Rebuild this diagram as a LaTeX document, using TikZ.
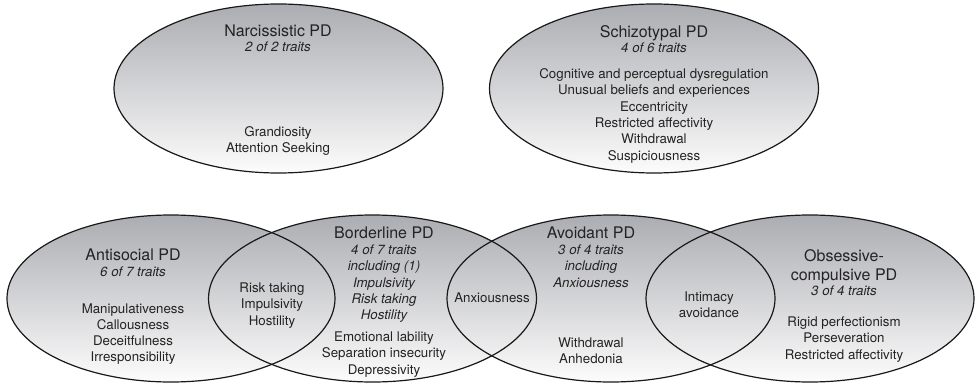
\documentclass[tikz,border=0pt]{standalone}
\usepackage{fontspec}
\setmainfont{TeX Gyre Heros}
\definecolor{ellTop}{RGB}{172,173,178}
\definecolor{ellBot}{RGB}{252,252,252}
\definecolor{txtc}{RGB}{35,35,35}
\begin{document}
\begin{tikzpicture}[x=1pt,y=-1pt,
  ellfill/.style={top color=ellTop,bottom color=ellBot},
  elldraw/.style={draw=black!90,line width=1.2pt},
  ttl/.style={font=\fontsize{16}{19}\selectfont,anchor=base,inner sep=0pt,text=txtc},
  sub/.style={font=\fontsize{13.3}{16}\selectfont\itshape,anchor=base,inner sep=0pt,text=txtc},
  itm/.style={font=\fontsize{13.3}{16}\selectfont,anchor=base,inner sep=0pt,text=txtc}]
\useasboundingbox (0,0) rectangle (976,385);
% centres
\coordinate (cN) at (278.5,88.5);
\coordinate (cS) at (654,88.5);
\coordinate (cA) at (171,298.5);
\coordinate (cB) at (372.5,298.5);
\coordinate (cV) at (611,298.5);
\coordinate (cO) at (810,298.5);
% fills
\foreach \c in {cN,cS}{\path[ellfill] (\c) ellipse [x radius=164.5,y radius=84.5];}
\foreach \c in {cA,cB,cV,cO}{\path[ellfill] (\c) ellipse [x radius=164,y radius=83.5];}
% outlines
\foreach \c in {cN,cS}{\path[elldraw] (\c) ellipse [x radius=164.5,y radius=84.5];}
\foreach \c in {cA,cB,cV,cO}{\path[elldraw] (\c) ellipse [x radius=164,y radius=83.5];}
% Narcissistic
\node[ttl] (n-t) at (278,36.5) {Narcissistic PD};
\node[sub] (n-s) at (278,52) {2 of 2 traits};
\node[itm] (n-1) at (278,136.5) {Grandiosity};
\node[itm] (n-2) at (278,152.8) {Attention Seeking};
% Schizotypal
\node[ttl] (s-t) at (654,37.5) {Schizotypal PD};
\node[sub] (s-s) at (654,53) {4 of 6 traits};
\node[itm] (s-1) at (654,78.5) {Cognitive and perceptual dysregulation};
\node[itm] (s-2) at (654,94.8) {Unusual beliefs and experiences};
\node[itm] (s-3) at (654,111.1) {Eccentricity};
\node[itm] (s-4) at (654,127.4) {Restricted affectivity};
\node[itm] (s-5) at (654,143.7) {Withdrawal};
\node[itm] (s-6) at (654,160) {Suspiciousness};
% Antisocial
\node[ttl] (a-t) at (133,260.5) {Antisocial PD};
\node[sub] (a-s) at (133,276.5) {6 of 7 traits};
\node[itm] (a-1) at (133,313) {Manipulativeness};
\node[itm] (a-2) at (133,329.3) {Callousness};
\node[itm] (a-3) at (133,345.6) {Deceitfulness};
\node[itm] (a-4) at (133,361.9) {Irresponsibility};
% Antisocial / Borderline
\node[itm] (ab-1) at (272,292.5) {Risk taking};
\node[itm] (ab-2) at (272,308.8) {Impulsivity};
\node[itm] (ab-3) at (272,325.1) {Hostility};
% Borderline
\node[ttl] (b-t) at (384,238.5) {Borderline PD};
\node[sub] (b-s) at (384,254.5) {4 of 7 traits};
\node[sub] (b-i) at (384,270.8) {including (1)};
\node[sub] (b-i1) at (384,287.1) {Impulsivity};
\node[sub] (b-i2) at (384,303.4) {Risk taking};
\node[sub] (b-i3) at (384,319.7) {Hostility};
\node[itm] (b-1) at (384,341.5) {Emotional lability};
\node[itm] (b-2) at (384,357.8) {Separation insecurity};
\node[itm] (b-3) at (384,374.1) {Depressivity};
% Borderline / Avoidant
\node[itm] (bv-1) at (492,302.5) {Anxiousness};
% Avoidant
\node[ttl] (v-t) at (591,238.5) {Avoidant PD};
\node[sub] (v-s) at (591,254.5) {3 of 4 traits};
\node[sub] (v-i) at (591,270.8) {including};
\node[sub] (v-i1) at (591,287.1) {Anxiousness};
\node[itm] (v-1) at (591,347.5) {Withdrawal};
\node[itm] (v-2) at (591,363.8) {Anhedonia};
% Avoidant / Obsessive
\node[itm] (vo-1) at (709,301.5) {Intimacy};
\node[itm] (vo-2) at (709,317.8) {avoidance};
% Obsessive-compulsive
\node[ttl] (o-t1) at (844,261) {Obsessive-};
\node[ttl] (o-t2) at (844,280) {compulsive PD};
\node[sub] (o-s) at (844,295.5) {3 of 4 traits};
\node[itm] (o-1) at (844,326.5) {Rigid perfectionism};
\node[itm] (o-2) at (844,342.8) {Perseveration};
\node[itm] (o-3) at (844,359.1) {Restricted affectivity};
\end{tikzpicture}
\end{document}
